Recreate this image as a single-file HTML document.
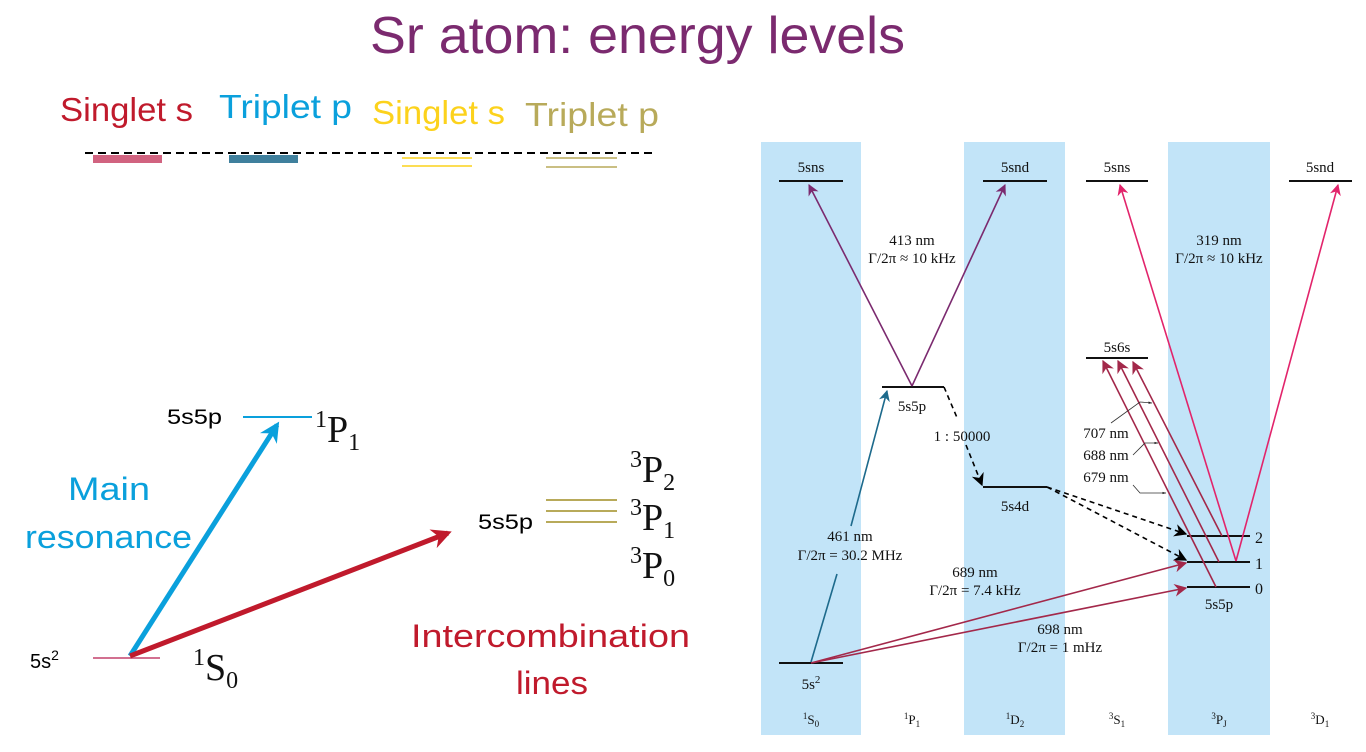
<!DOCTYPE html>
<html><head><meta charset="utf-8"><style>
body{margin:0;background:#fff;width:1366px;height:752px;overflow:hidden}
svg{display:block}
.s{font-family:"Liberation Serif",serif;fill:#111}
.c{font-family:"Liberation Sans",sans-serif}
</style></head><body>
<svg width="1366" height="752" viewBox="0 0 1366 752">
<defs>
<marker id="ap" viewBox="0 0 10 10" refX="9" refY="5" markerWidth="7" markerHeight="7" orient="auto-start-reverse"><path d="M0,0 L10,5 L0,10 L3,5z" fill="#7b2a6f"/></marker>
<marker id="at" viewBox="0 0 10 10" refX="9" refY="5" markerWidth="7" markerHeight="7" orient="auto"><path d="M0,0 L10,5 L0,10 L3,5z" fill="#1d6a8c"/></marker>
<marker id="ar" viewBox="0 0 10 10" refX="9" refY="5" markerWidth="8" markerHeight="8" orient="auto"><path d="M0,0 L10,5 L0,10 L3,5z" fill="#a3284a"/></marker>
<marker id="ak" viewBox="0 0 10 10" refX="9" refY="5" markerWidth="8" markerHeight="8" orient="auto"><path d="M0,0 L10,5 L0,10 L3,5z" fill="#000"/></marker>
<marker id="ai" viewBox="0 0 10 10" refX="9" refY="5" markerWidth="7" markerHeight="7" orient="auto"><path d="M0,0 L10,5 L0,10 L3,5z" fill="#e2246b"/></marker>
<marker id="ab" viewBox="0 0 10 10" refX="8" refY="5" markerWidth="4" markerHeight="4" orient="auto"><path d="M0,0 L10,5 L0,10 L3,5z" fill="#0aa0dc"/></marker>
<marker id="ac" viewBox="0 0 10 10" refX="8" refY="5" markerWidth="4" markerHeight="4" orient="auto"><path d="M0,0 L10,5 L0,10 L3,5z" fill="#c01a2c"/></marker>
<marker id="as" viewBox="0 0 10 10" refX="9" refY="5" markerWidth="5" markerHeight="5" orient="auto"><path d="M0,2 L10,5 L0,8z" fill="#222"/></marker>
</defs>

<text x="370" y="53" textLength="535" lengthAdjust="spacingAndGlyphs" class="c" font-size="52" fill="#7b2a6f">Sr atom: energy levels</text>

<g class="c" font-size="33">
<text x="60" y="121" textLength="133" lengthAdjust="spacingAndGlyphs" fill="#c01a2c">Singlet s</text>
<text x="219" y="118" textLength="133" lengthAdjust="spacingAndGlyphs" fill="#0aa0dc">Triplet p</text>
<text x="372" y="124" textLength="133" lengthAdjust="spacingAndGlyphs" fill="#fcd21c">Singlet s</text>
<text x="525" y="126" textLength="134" lengthAdjust="spacingAndGlyphs" fill="#b8aa5a">Triplet p</text>
<line x1="85" y1="153" x2="655" y2="153" stroke="#000" stroke-width="2" stroke-dasharray="8,5"/>
<rect x="93" y="155" width="69" height="8" fill="#c9486a" opacity="0.85"/>
<rect x="229" y="155" width="69" height="8" fill="#1d6a8c" opacity="0.85"/>
<line x1="402" y1="158" x2="472" y2="158" stroke="#fcd21c" stroke-width="1.5"/>
<line x1="402" y1="166" x2="472" y2="166" stroke="#fcd21c" stroke-width="1.5"/>
<line x1="546" y1="158" x2="617" y2="158" stroke="#b8aa5a" stroke-width="1.5"/>
<line x1="546" y1="167" x2="617" y2="167" stroke="#b8aa5a" stroke-width="1.5"/>
</g>

<g>
<text x="30" y="668" class="c" font-size="20">5s<tspan dy="-8" font-size="14">2</tspan></text>
<line x1="93" y1="658" x2="160" y2="658" stroke="#d27090" stroke-width="2"/>
<text x="193" y="680" class="s" font-size="38"><tspan dy="-15" font-size="24">1</tspan><tspan dy="15">S</tspan><tspan dy="8" font-size="24">0</tspan></text>
<text x="167" y="424" class="c" font-size="21" textLength="55" lengthAdjust="spacingAndGlyphs">5s5p</text>
<line x1="243" y1="417" x2="312" y2="417" stroke="#0aa0dc" stroke-width="2"/>
<text x="315" y="442" class="s" font-size="38"><tspan dy="-15" font-size="24">1</tspan><tspan dy="15">P</tspan><tspan dy="8" font-size="24">1</tspan></text>
<line x1="130" y1="656" x2="277" y2="425" stroke="#0aa0dc" stroke-width="5" marker-end="url(#ab)"/>
<line x1="130" y1="656" x2="448" y2="533" stroke="#c01a2c" stroke-width="5" marker-end="url(#ac)"/>
<text x="68" y="500" textLength="82" lengthAdjust="spacingAndGlyphs" class="c" font-size="32" fill="#0aa0dc">Main</text>
<text x="25" y="548" textLength="167" lengthAdjust="spacingAndGlyphs" class="c" font-size="32" fill="#0aa0dc">resonance</text>
<text x="478" y="529" class="c" font-size="21" textLength="55" lengthAdjust="spacingAndGlyphs">5s5p</text>
<line x1="546" y1="500" x2="617" y2="500" stroke="#b8aa5a" stroke-width="2"/>
<line x1="546" y1="511" x2="617" y2="511" stroke="#b8aa5a" stroke-width="2"/>
<line x1="546" y1="522" x2="617" y2="522" stroke="#b8aa5a" stroke-width="2"/>
<g class="s" font-size="38">
<text x="630" y="482"><tspan dy="-15" font-size="24">3</tspan><tspan dy="15">P</tspan><tspan dy="8" font-size="24">2</tspan></text>
<text x="630" y="530"><tspan dy="-15" font-size="24">3</tspan><tspan dy="15">P</tspan><tspan dy="8" font-size="24">1</tspan></text>
<text x="630" y="578"><tspan dy="-15" font-size="24">3</tspan><tspan dy="15">P</tspan><tspan dy="8" font-size="24">0</tspan></text>
</g>
<text x="411" y="647" textLength="279" lengthAdjust="spacingAndGlyphs" class="c" font-size="32" fill="#c01a2c">Intercombination</text>
<text x="516" y="694" textLength="72" lengthAdjust="spacingAndGlyphs" class="c" font-size="32" fill="#c01a2c">lines</text>
</g>

<g>
<rect x="761" y="142" width="100" height="593" fill="#c2e4f8"/>
<rect x="964" y="142" width="101" height="593" fill="#c2e4f8"/>
<rect x="1168" y="142" width="102" height="593" fill="#c2e4f8"/>
<g stroke="#111" stroke-width="2">
<line x1="779" y1="181" x2="843" y2="181"/><line x1="983" y1="181" x2="1047" y2="181"/>
<line x1="1086" y1="181" x2="1148" y2="181"/><line x1="1289" y1="181" x2="1352" y2="181"/>
<line x1="882" y1="387" x2="944" y2="387"/><line x1="983" y1="487" x2="1047" y2="487"/>
<line x1="1086" y1="358" x2="1148" y2="358"/>
<line x1="1187" y1="536" x2="1250" y2="536"/><line x1="1187" y1="562" x2="1250" y2="562"/><line x1="1187" y1="587" x2="1250" y2="587"/>
<line x1="779" y1="663" x2="843" y2="663"/>
</g>
<g class="s" font-size="15" text-anchor="middle">
<text x="811" y="172">5sns</text><text x="1015" y="172">5snd</text><text x="1117" y="172">5sns</text><text x="1320" y="172">5snd</text>
<text x="912" y="411">5s5p</text><text x="1015" y="511">5s4d</text><text x="1117" y="352">5s6s</text>
<text x="1219" y="609">5s5p</text><text x="811" y="689">5s<tspan dy="-6" font-size="11">2</tspan></text>
<text x="1255" y="543" text-anchor="start" font-size="16">2</text><text x="1255" y="569" text-anchor="start" font-size="16">1</text><text x="1255" y="594" text-anchor="start" font-size="16">0</text>
<text x="912" y="245">413 nm</text><text x="912" y="263">Γ/2π ≈ 10 kHz</text>
<text x="1219" y="245">319 nm</text><text x="1219" y="263">Γ/2π ≈ 10 kHz</text>
<text x="962" y="441">1 : 50000</text>
<text x="850" y="541">461 nm</text><text x="850" y="560">Γ/2π = 30.2 MHz</text>
<text x="975" y="577">689 nm</text><text x="975" y="595">Γ/2π = 7.4 kHz</text>
<text x="1060" y="634">698 nm</text><text x="1060" y="652">Γ/2π = 1 mHz</text>
<text x="1106" y="438">707 nm</text><text x="1106" y="460">688 nm</text><text x="1106" y="482">679 nm</text>
</g>
<g class="s" font-size="13" text-anchor="middle">
<text x="811" y="724"><tspan font-size="9" dy="-5">1</tspan><tspan dy="5">S</tspan><tspan font-size="9" dy="3">0</tspan></text>
<text x="912" y="724"><tspan font-size="9" dy="-5">1</tspan><tspan dy="5">P</tspan><tspan font-size="9" dy="3">1</tspan></text>
<text x="1015" y="724"><tspan font-size="9" dy="-5">1</tspan><tspan dy="5">D</tspan><tspan font-size="9" dy="3">2</tspan></text>
<text x="1117" y="724"><tspan font-size="9" dy="-5">3</tspan><tspan dy="5">S</tspan><tspan font-size="9" dy="3">1</tspan></text>
<text x="1219" y="724"><tspan font-size="9" dy="-5">3</tspan><tspan dy="5">P</tspan><tspan font-size="9" dy="3">J</tspan></text>
<text x="1320" y="724"><tspan font-size="9" dy="-5">3</tspan><tspan dy="5">D</tspan><tspan font-size="9" dy="3">1</tspan></text>
</g>
<g fill="none" stroke-width="1.6">
<line x1="912" y1="386" x2="809" y2="185" stroke="#7b2a6f" marker-end="url(#ap)"/>
<line x1="912" y1="386" x2="1005" y2="185" stroke="#7b2a6f" marker-end="url(#ap)"/>
<line x1="811" y1="662" x2="837" y2="574" stroke="#1d6a8c"/>
<line x1="851" y1="526" x2="887" y2="391" stroke="#1d6a8c" marker-end="url(#at)"/>
<polyline points="944,387 958,420" stroke="#000" stroke-dasharray="5,4"/>
<line x1="966" y1="445" x2="982" y2="485" stroke="#000" stroke-dasharray="5,4" marker-end="url(#ak)"/>
<line x1="1047" y1="487" x2="1186" y2="534" stroke="#000" stroke-dasharray="5,4" marker-end="url(#ak)"/>
<line x1="1047" y1="487" x2="1186" y2="560" stroke="#000" stroke-dasharray="5,4" marker-end="url(#ak)"/>
<line x1="811" y1="663" x2="1186" y2="563" stroke="#a3284a" marker-end="url(#ar)"/>
<line x1="811" y1="663" x2="1186" y2="588" stroke="#a3284a" marker-end="url(#ar)"/>
<line x1="1216" y1="587" x2="1103" y2="361" stroke="#a3284a" marker-end="url(#ar)"/>
<line x1="1219" y1="562" x2="1118" y2="361" stroke="#a3284a" marker-end="url(#ar)"/>
<line x1="1222" y1="536" x2="1133" y2="362" stroke="#a3284a" marker-end="url(#ar)"/>
<line x1="1236" y1="561" x2="1120" y2="185" stroke="#e2246b" marker-end="url(#ai)"/>
<line x1="1236" y1="561" x2="1338" y2="185" stroke="#e2246b" marker-end="url(#ai)"/>
<g stroke="#333" stroke-width="0.8">
<polyline points="1111,423 1140,402 1152,403" marker-end="url(#as)"/>
<polyline points="1133,455 1145,443 1158,443" marker-end="url(#as)"/>
<polyline points="1133,485 1140,493 1166,493" marker-end="url(#as)"/>
</g>
</g>
</g>
</svg>
</body></html>
